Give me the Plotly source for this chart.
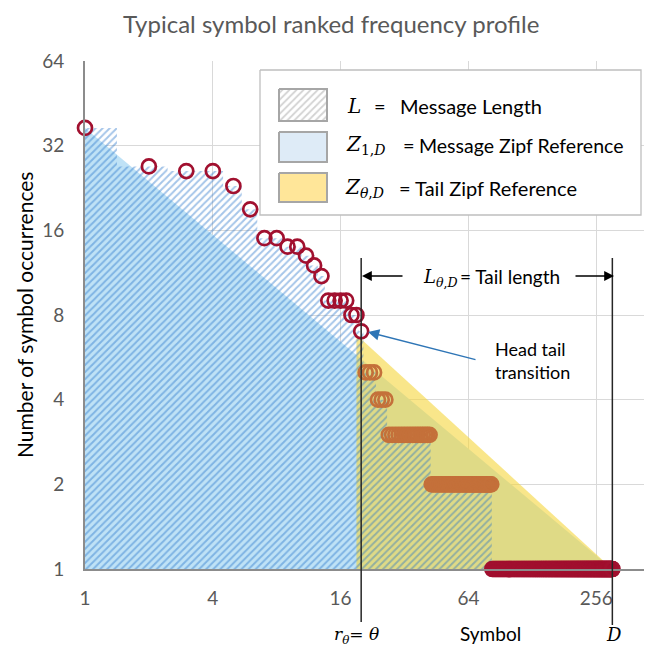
import math
import plotly.graph_objects as go

# ---------------- data ----------------
head_rank = list(range(1, 21))
head_count = [37, 27, 26, 26, 23, 19, 15, 15, 14, 14, 13, 12, 11, 9, 9, 9, 9, 8, 8, 7]

tail_level = [5, 4, 3, 2]
tail_first_rank = [21, 24, 27, 43]
tail_last_rank = [23, 26, 42, 82]

single_first_rank = 83
D = 305            # number of distinct symbols
theta = 20         # head/tail transition rank
tail_ref_rank0 = 19
tail_ref_count0 = 6.8

x_tick_vals = [1, 4, 16, 64, 256]
x_tick_text = ["1", "4", "16", "64", "256"]
y_tick_vals = [1, 2, 4, 8, 16, 32, 64]
y_tick_text = ["1", "2", "4", "8", "16", "32", "64"]

# ---------------- derived series ----------------
tail_rank, tail_count = [], []
for lvl, a, b in zip(tail_level, tail_first_rank, tail_last_rank):
    for r in range(a, b + 1):
        tail_rank.append(r)
        tail_count.append(lvl)
single_rank = list(range(single_first_rank, D + 1))
single_count = [1] * len(single_rank)

all_rank = head_rank + tail_rank + single_rank
all_count = head_count + tail_count + single_count

# ---------------- layout geometry (screen pixels; page body has an 8px margin) ----------------
OFF = 8
SW, SH = 652, 654                 # screen size
PL, PT, PB = 85, 61, 569          # plot area left / top / bottom on screen
W, H = SW - OFF, SH - OFF
ML, MT, MR, MB = PL - OFF, PT - OFF, 0, SH - PB
PW, PH = SW - PL, PB - PT


def xp(px):
    return (px - PL) / PW


def yp(py):
    return (PB - py) / PH


FONT = "Lato"
SERIF = "DejaVu Serif"
GRAY = "#595959"
DARKRED = "#A1102F"
ORANGE = "#C4703A"

fig = go.Figure()

# Zipf reference Z_{1,D}
fig.add_trace(go.Scatter(
    x=[1, D, 1], y=[head_count[0], 1, 1], mode="lines", fill="toself",
    fillcolor="#BFE2F6", line=dict(width=0), hoverinfo="skip", showlegend=False))

# Tail Zipf reference Z_{theta,D}
fig.add_trace(go.Scatter(
    x=[tail_ref_rank0, D, tail_ref_rank0], y=[tail_ref_count0, 1, 1], mode="lines",
    fill="toself", fillcolor="rgba(245,214,60,0.6)", line=dict(width=0),
    hoverinfo="skip", showlegend=False))

# Message length L (hatched step area)
fig.add_trace(go.Scatter(
    x=all_rank + [D, 1], y=all_count + [1, 1], mode="lines", fill="toself",
    line=dict(width=0, shape="hvh"), fillcolor="rgba(0,0,0,0)",
    fillpattern=dict(shape="/", fgcolor="rgba(30,110,200,0.8)",
                     bgcolor="rgba(0,0,0,0)", size=5, solidity=0.4),
    hoverinfo="skip", showlegend=False))

# circles
marker_common = dict(symbol="circle-open", size=14)
fig.add_trace(go.Scatter(
    x=tail_rank, y=tail_count, mode="markers", cliponaxis=False,
    marker=dict(color=ORANGE, line=dict(width=2.7), **marker_common), showlegend=False))
fig.add_trace(go.Scatter(
    x=single_rank, y=single_count, mode="markers", cliponaxis=False,
    marker=dict(color=DARKRED, line=dict(width=2.7), **marker_common), showlegend=False))
fig.add_trace(go.Scatter(
    x=head_rank, y=head_count, mode="markers", cliponaxis=False,
    marker=dict(color=DARKRED, line=dict(width=2.7), **marker_common), showlegend=False))

# ---------------- legend box (overlay axes in screen pixels) ----------------
def rect(x0, y0, x1, y1, **kw):
    fig.add_trace(go.Scatter(
        x=[x0, x1, x1, x0, x0], y=[y0, y0, y1, y1, y0], mode="lines", fill="toself",
        xaxis="x2", yaxis="y2", hoverinfo="skip", showlegend=False, **kw))


rect(260, 70, 641, 215, fillcolor="white", line=dict(color="#BFBFBF", width=1.3))
rect(279, 89, 327, 121, fillcolor="white", line=dict(color="#A6A6A6", width=2),
     fillpattern=dict(shape="/", fgcolor="#A6A6A6", bgcolor="white", size=5, solidity=0.35))
rect(279, 132, 327, 162, fillcolor="#DEEBF7", line=dict(color="#A6A6A6", width=2))
rect(279, 173, 327, 202, fillcolor="#FFE699", line=dict(color="#A6A6A6", width=2))

# ---------------- annotations ----------------
ann = []


def text(px, py, s, size=17, color="black", xanchor="center", family=FONT, **kw):
    ann.append(dict(x=xp(px), y=yp(py), xref="paper", yref="paper", text=s, showarrow=False,
                    xanchor=xanchor, yanchor="middle",
                    font=dict(family=family, size=size, color=color), **kw))


# legend text
text(345, 106, "<i>L</i>", size=20, family=SERIF, xanchor="left")
text(372, 106, "=", size=20, xanchor="left")
text(398, 106, "Message Length", size=20, xanchor="left")
text(344, 145, "<i>Z</i><sub>1,<i>D</i></sub>", size=20, family=SERIF, xanchor="left")
text(401, 145, "=", size=20, xanchor="left")
text(417, 145, "Message Zipf Reference", size=19.5, xanchor="left")
text(343, 188, "<i>Z</i><sub><i>θ</i>,<i>D</i></sub>", size=20, family=SERIF, xanchor="left")
text(397, 188, "= Tail Zipf Reference", size=20, xanchor="left")

# tail length label
text(421, 278, "<i>L</i><sub><i>θ</i>,<i>D</i></sub>", size=18, family=SERIF, xanchor="left")
text(458, 276, "= Tail length", size=19, xanchor="left")

# head tail transition
text(493, 360, "Head tail<br>transition", size=18, xanchor="left", align="left")

# axis annotations
text(331, 24, "Typical symbol ranked frequency profile", size=24, color=GRAY)
text(24, 315, "Number of symbol occurrences", size=21, textangle=-90)
text(490, 633, "Symbol", size=19)
text(614, 634, "<i>D</i>", size=18, family=SERIF)
text(356, 635, "<i>r</i><sub><i>θ</i></sub>= <i>θ</i>", size=17, family=SERIF)

# arrows
ann.append(dict(x=xp(368), y=yp(332), xref="paper", yref="paper", ax=109, ay=28,
                text="", showarrow=True, arrowhead=2, arrowsize=1.6, arrowwidth=1.4,
                arrowcolor="#2E75B6"))
ann.append(dict(x=xp(362), y=yp(276), xref="paper", yref="paper", ax=42, ay=0,
                text="", showarrow=True, arrowhead=2, arrowsize=1.4, arrowwidth=1.4,
                arrowcolor="black"))
ann.append(dict(x=xp(614), y=yp(276), xref="paper", yref="paper", ax=-40, ay=0,
                text="", showarrow=True, arrowhead=2, arrowsize=1.4, arrowwidth=1.4,
                arrowcolor="black"))

shapes = [
    dict(type="line", xref="x", yref="paper", x0=theta, x1=theta, y0=yp(258), y1=yp(622),
         line=dict(color="#262626", width=1.5), layer="above"),
    dict(type="line", xref="x", yref="paper", x0=D, x1=D, y0=yp(258), y1=yp(625),
         line=dict(color="#262626", width=1.5), layer="above"),
]

fig.update_layout(
    width=W, height=H, margin=dict(l=ML, r=MR, t=MT, b=MB, autoexpand=False),
    paper_bgcolor="white", plot_bgcolor="white",
    font=dict(family=FONT, color=GRAY),
    showlegend=False,
    annotations=ann, shapes=shapes,
    xaxis=dict(type="log", range=[0, math.log10(2) * (PW / 63.9)],
               tickvals=x_tick_vals, ticktext=x_tick_text, ticks="",
               tickfont=dict(size=19, color=GRAY), ticklabelstandoff=11,
               showgrid=True, gridcolor="#D9D9D9", gridwidth=1,
               showline=True, linecolor="#8C8C8C", linewidth=2, zeroline=False),
    yaxis=dict(type="log", range=[0, math.log10(64)],
               tickvals=y_tick_vals, ticktext=y_tick_text, ticks="",
               tickfont=dict(size=19, color=GRAY), ticklabelstandoff=15,
               showgrid=True, gridcolor="#D9D9D9", gridwidth=1,
               showline=True, linecolor="#8C8C8C", linewidth=2, zeroline=False),
    xaxis2=dict(overlaying="x", range=[PL, SW], visible=False, showgrid=False),
    yaxis2=dict(overlaying="y", range=[PB, PT], visible=False, showgrid=False),
)

fig.write_html("out.html")
